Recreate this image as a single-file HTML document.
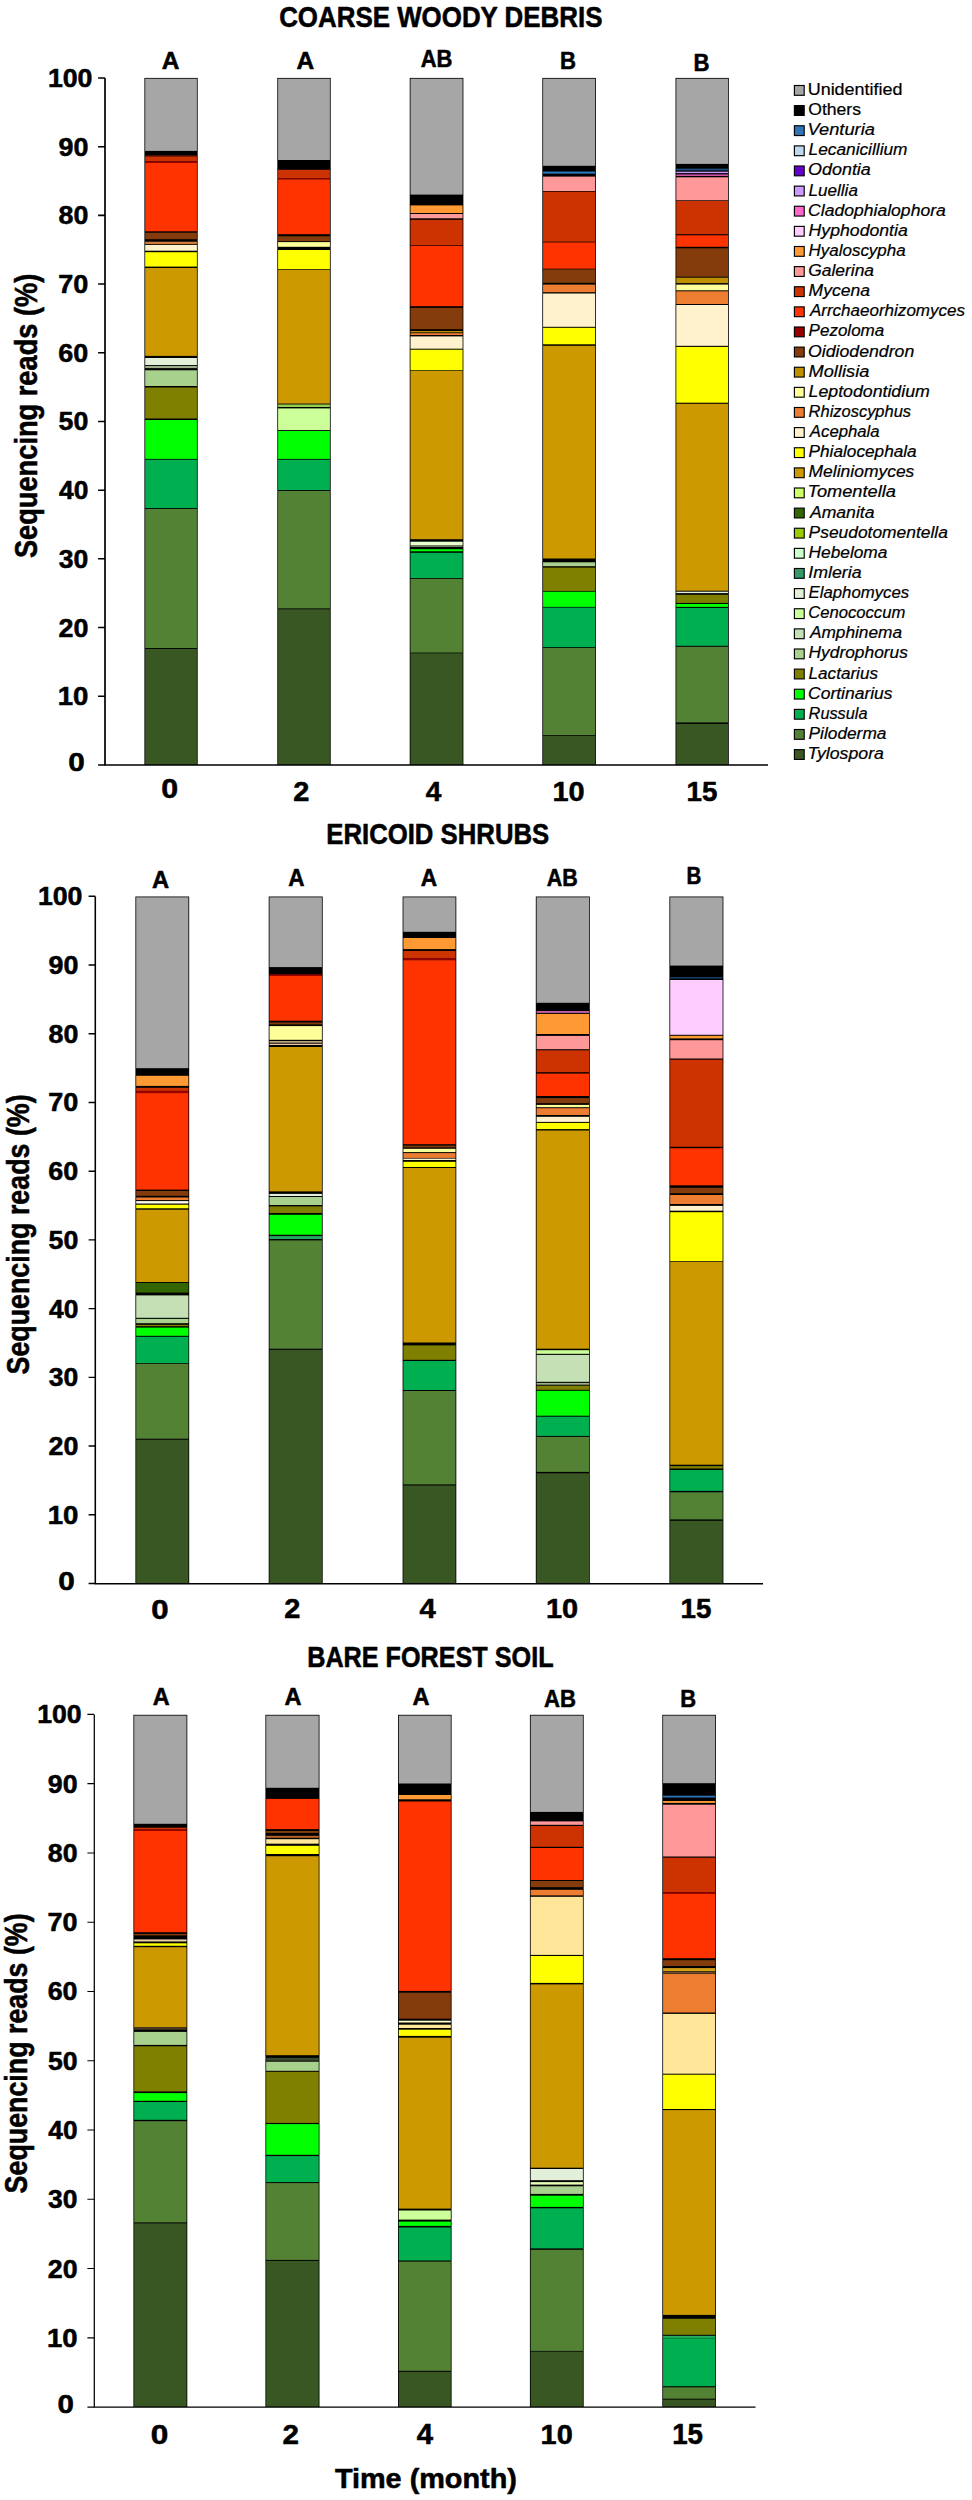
<!DOCTYPE html>
<html lang="en"><head><meta charset="utf-8"><title>Sequencing reads by substrate</title>
<style>
html,body{margin:0;padding:0;background:#fff}
body{width:972px;height:2500px;overflow:hidden}
svg{display:block}
text{font-family:"Liberation Sans",Arial,Helvetica,sans-serif;fill:#000}
text[font-weight=bold]{stroke:#000;stroke-width:.55px;stroke-linejoin:round}
text[font-weight=normal]{stroke:#000;stroke-width:.22px}
</style></head><body>
<svg width="972" height="2500" viewBox="0 0 972 2500">
<rect width="972" height="2500" fill="#fff"/>
<g>
<rect x="144.40" y="77.90" width="53.30" height="687.10" fill="#000"/>
<rect x="145.20" y="78.70" width="51.70" height="72.20" fill="#A6A6A6"/>
<rect x="145.20" y="155.00" width="51.70" height="1.20" fill="#401008"/>
<rect x="145.20" y="156.40" width="51.70" height="5.00" fill="#CC3300"/>
<rect x="145.20" y="161.40" width="51.70" height="1.50" fill="#990000"/>
<rect x="145.20" y="162.90" width="51.70" height="68.40" fill="#FF3300"/>
<rect x="145.20" y="232.70" width="51.70" height="6.50" fill="#843C0C"/>
<rect x="145.20" y="241.70" width="51.70" height="2.50" fill="#D07A3A"/>
<rect x="145.20" y="245.00" width="51.70" height="5.70" fill="#FFF2CC"/>
<rect x="145.20" y="252.20" width="51.70" height="14.40" fill="#FFFF00"/>
<rect x="145.20" y="268.00" width="51.70" height="87.90" fill="#CC9900"/>
<rect x="145.20" y="358.00" width="51.70" height="7.00" fill="#E2F0D9"/>
<rect x="145.20" y="365.90" width="51.70" height="2.20" fill="#9DB08A"/>
<rect x="145.20" y="370.30" width="51.70" height="15.70" fill="#A9D18E"/>
<rect x="145.20" y="387.50" width="51.70" height="31.00" fill="#808000"/>
<rect x="145.20" y="420.00" width="51.70" height="38.90" fill="#00FF00"/>
<rect x="145.20" y="459.70" width="51.70" height="48.40" fill="#00B050"/>
<rect x="145.20" y="509.00" width="51.70" height="139.00" fill="#548235"/>
<rect x="145.20" y="648.90" width="51.70" height="116.00" fill="#385723"/>
<rect x="277.30" y="77.90" width="53.40" height="687.10" fill="#000"/>
<rect x="278.10" y="78.70" width="51.80" height="81.30" fill="#A6A6A6"/>
<rect x="278.10" y="169.80" width="51.80" height="8.50" fill="#CC3300"/>
<rect x="278.10" y="178.30" width="51.80" height="1.10" fill="#990000"/>
<rect x="278.10" y="179.40" width="51.80" height="54.80" fill="#FF3300"/>
<rect x="278.10" y="236.30" width="51.80" height="4.80" fill="#843C0C"/>
<rect x="278.10" y="242.10" width="51.80" height="4.70" fill="#FFFF99"/>
<rect x="278.10" y="250.00" width="51.80" height="19.20" fill="#FFFF00"/>
<rect x="278.10" y="269.90" width="51.80" height="133.10" fill="#CC9900"/>
<rect x="278.10" y="403.00" width="51.80" height="1.40" fill="#7A5A10"/>
<rect x="278.10" y="404.60" width="51.80" height="2.40" fill="#92D050"/>
<rect x="278.10" y="408.40" width="51.80" height="21.70" fill="#CCFF99"/>
<rect x="278.10" y="431.00" width="51.80" height="27.90" fill="#00FF00"/>
<rect x="278.10" y="459.70" width="51.80" height="30.40" fill="#00B050"/>
<rect x="278.10" y="491.00" width="51.80" height="117.40" fill="#548235"/>
<rect x="278.10" y="609.30" width="51.80" height="155.60" fill="#385723"/>
<rect x="409.70" y="77.90" width="53.70" height="687.10" fill="#000"/>
<rect x="410.50" y="78.70" width="52.10" height="115.90" fill="#A6A6A6"/>
<rect x="410.50" y="205.40" width="52.10" height="7.60" fill="#FF9933"/>
<rect x="410.50" y="214.00" width="52.10" height="4.30" fill="#FF9999"/>
<rect x="410.50" y="219.80" width="52.10" height="25.20" fill="#CC3300"/>
<rect x="410.50" y="245.70" width="52.10" height="60.50" fill="#FF3300"/>
<rect x="410.50" y="307.90" width="52.10" height="21.30" fill="#843C0C"/>
<rect x="410.50" y="331.00" width="52.10" height="1.40" fill="#BF9000"/>
<rect x="410.50" y="333.20" width="52.10" height="1.80" fill="#ED7D31"/>
<rect x="410.50" y="336.40" width="52.10" height="12.30" fill="#FFF2CC"/>
<rect x="410.50" y="349.70" width="52.10" height="20.60" fill="#FFFF00"/>
<rect x="410.50" y="371.00" width="52.10" height="168.20" fill="#CC9900"/>
<rect x="410.50" y="541.70" width="52.10" height="3.30" fill="#E6FFCC"/>
<rect x="410.50" y="545.30" width="52.10" height="1.40" fill="#9DB08A"/>
<rect x="410.50" y="549.20" width="52.10" height="2.10" fill="#00FF00"/>
<rect x="410.50" y="552.80" width="52.10" height="25.20" fill="#00B050"/>
<rect x="410.50" y="578.80" width="52.10" height="73.80" fill="#548235"/>
<rect x="410.50" y="653.30" width="52.10" height="111.60" fill="#385723"/>
<rect x="542.30" y="77.90" width="53.60" height="687.10" fill="#000"/>
<rect x="543.10" y="78.70" width="52.00" height="87.10" fill="#A6A6A6"/>
<rect x="543.10" y="171.50" width="52.00" height="2.20" fill="#2E75B6"/>
<rect x="543.10" y="176.60" width="52.00" height="14.40" fill="#FF9999"/>
<rect x="543.10" y="191.70" width="52.00" height="50.00" fill="#CC3300"/>
<rect x="543.10" y="242.40" width="52.00" height="26.30" fill="#FF3300"/>
<rect x="543.10" y="269.40" width="52.00" height="13.40" fill="#843C0C"/>
<rect x="543.10" y="284.60" width="52.00" height="7.60" fill="#ED7D31"/>
<rect x="543.10" y="293.50" width="52.00" height="33.30" fill="#FFF2CC"/>
<rect x="543.10" y="327.80" width="52.00" height="16.50" fill="#FFFF00"/>
<rect x="543.10" y="345.80" width="52.00" height="212.70" fill="#CC9900"/>
<rect x="543.10" y="562.30" width="52.00" height="3.90" fill="#A9D18E"/>
<rect x="543.10" y="567.60" width="52.00" height="23.30" fill="#808000"/>
<rect x="543.10" y="591.70" width="52.00" height="15.20" fill="#00FF00"/>
<rect x="543.10" y="607.60" width="52.00" height="39.60" fill="#00B050"/>
<rect x="543.10" y="648.00" width="52.00" height="87.10" fill="#548235"/>
<rect x="543.10" y="735.80" width="52.00" height="29.10" fill="#385723"/>
<rect x="675.50" y="77.90" width="53.30" height="687.10" fill="#000"/>
<rect x="676.30" y="78.70" width="51.70" height="85.20" fill="#A6A6A6"/>
<rect x="676.30" y="168.60" width="51.70" height="1.90" fill="#1F4E79"/>
<rect x="676.30" y="171.70" width="51.70" height="1.40" fill="#CC99FF"/>
<rect x="676.30" y="174.50" width="51.70" height="1.30" fill="#FF66CC"/>
<rect x="676.30" y="177.30" width="51.70" height="23.00" fill="#FF9999"/>
<rect x="676.30" y="201.00" width="51.70" height="33.20" fill="#CC3300"/>
<rect x="676.30" y="235.30" width="51.70" height="11.50" fill="#FF3300"/>
<rect x="676.30" y="248.30" width="51.70" height="28.40" fill="#843C0C"/>
<rect x="676.30" y="277.70" width="51.70" height="5.40" fill="#BF9000"/>
<rect x="676.30" y="284.60" width="51.70" height="5.70" fill="#FFFF99"/>
<rect x="676.30" y="291.30" width="51.70" height="12.70" fill="#ED7D31"/>
<rect x="676.30" y="305.00" width="51.70" height="40.80" fill="#FFF2CC"/>
<rect x="676.30" y="346.90" width="51.70" height="55.80" fill="#FFFF00"/>
<rect x="676.30" y="403.80" width="51.70" height="186.90" fill="#CC9900"/>
<rect x="676.30" y="591.70" width="51.70" height="1.40" fill="#E2F0D9"/>
<rect x="676.30" y="594.80" width="51.70" height="8.10" fill="#808000"/>
<rect x="676.30" y="604.00" width="51.70" height="2.90" fill="#00FF00"/>
<rect x="676.30" y="607.90" width="51.70" height="37.90" fill="#00B050"/>
<rect x="676.30" y="646.80" width="51.70" height="75.60" fill="#548235"/>
<rect x="676.30" y="723.90" width="51.70" height="41.00" fill="#385723"/>
<path d="M105.00 77.90V765.00H768.00" fill="none" stroke="#000" stroke-width="1.70"/>
<path d="M98.10 78.00H105.00M98.10 146.69H105.00M98.10 215.38H105.00M98.10 284.07H105.00M98.10 352.76H105.00M98.10 421.45H105.00M98.10 490.14H105.00M98.10 558.83H105.00M98.10 627.52H105.00M98.10 696.21H105.00M98.10 764.90H105.00" fill="none" stroke="#000" stroke-width="1.53"/>
</g>
<g>
<rect x="135.40" y="896.50" width="53.80" height="687.20" fill="#000"/>
<rect x="136.20" y="897.30" width="52.20" height="170.90" fill="#A6A6A6"/>
<rect x="136.20" y="1075.80" width="52.20" height="10.10" fill="#FF9933"/>
<rect x="136.20" y="1087.80" width="52.20" height="3.10" fill="#CC3300"/>
<rect x="136.20" y="1090.90" width="52.20" height="2.20" fill="#990000"/>
<rect x="136.20" y="1093.10" width="52.20" height="96.50" fill="#FF3300"/>
<rect x="136.20" y="1191.00" width="52.20" height="4.80" fill="#843C0C"/>
<rect x="136.20" y="1197.50" width="52.20" height="2.60" fill="#ED7D31"/>
<rect x="136.20" y="1201.10" width="52.20" height="2.40" fill="#FFFBEE"/>
<rect x="136.20" y="1204.70" width="52.20" height="3.60" fill="#FFFF00"/>
<rect x="136.20" y="1209.70" width="52.20" height="72.30" fill="#CC9900"/>
<rect x="136.20" y="1282.90" width="52.20" height="9.70" fill="#336600"/>
<rect x="136.20" y="1295.40" width="52.20" height="22.40" fill="#C5E0B4"/>
<rect x="136.20" y="1318.90" width="52.20" height="4.30" fill="#A9D18E"/>
<rect x="136.20" y="1324.80" width="52.20" height="1.40" fill="#808000"/>
<rect x="136.20" y="1327.60" width="52.20" height="8.20" fill="#00FF00"/>
<rect x="136.20" y="1336.80" width="52.20" height="26.30" fill="#00B050"/>
<rect x="136.20" y="1363.80" width="52.20" height="74.90" fill="#548235"/>
<rect x="136.20" y="1439.70" width="52.20" height="143.80" fill="#385723"/>
<rect x="268.70" y="896.50" width="54.00" height="687.20" fill="#000"/>
<rect x="269.50" y="897.30" width="52.40" height="69.80" fill="#A6A6A6"/>
<rect x="269.50" y="974.30" width="52.40" height="1.70" fill="#990000"/>
<rect x="269.50" y="976.00" width="52.40" height="44.70" fill="#FF3300"/>
<rect x="269.50" y="1022.50" width="52.40" height="1.90" fill="#843C0C"/>
<rect x="269.50" y="1026.10" width="52.40" height="13.70" fill="#FFFF99"/>
<rect x="269.50" y="1041.20" width="52.40" height="1.40" fill="#E8C9A0"/>
<rect x="269.50" y="1043.70" width="52.40" height="1.30" fill="#E8C9A0"/>
<rect x="269.50" y="1047.00" width="52.40" height="144.40" fill="#CC9900"/>
<rect x="269.50" y="1193.90" width="52.40" height="2.10" fill="#E2F0D9"/>
<rect x="269.50" y="1197.00" width="52.40" height="8.00" fill="#A9D18E"/>
<rect x="269.50" y="1206.40" width="52.40" height="6.60" fill="#808000"/>
<rect x="269.50" y="1214.80" width="52.40" height="19.90" fill="#00FF00"/>
<rect x="269.50" y="1236.10" width="52.40" height="2.90" fill="#20A860"/>
<rect x="269.50" y="1240.40" width="52.40" height="108.30" fill="#548235"/>
<rect x="269.50" y="1349.80" width="52.40" height="233.70" fill="#385723"/>
<rect x="402.60" y="896.50" width="53.70" height="687.20" fill="#000"/>
<rect x="403.40" y="897.30" width="52.10" height="34.50" fill="#A6A6A6"/>
<rect x="403.40" y="938.00" width="52.10" height="11.10" fill="#FF9933"/>
<rect x="403.40" y="951.00" width="52.10" height="7.40" fill="#CC3300"/>
<rect x="403.40" y="958.40" width="52.10" height="1.80" fill="#990000"/>
<rect x="403.40" y="960.20" width="52.10" height="184.00" fill="#FF3300"/>
<rect x="403.40" y="1145.60" width="52.10" height="1.80" fill="#843C0C"/>
<rect x="403.40" y="1148.80" width="52.10" height="3.30" fill="#FFFF99"/>
<rect x="403.40" y="1153.10" width="52.10" height="4.80" fill="#ED7D31"/>
<rect x="403.40" y="1158.60" width="52.10" height="1.40" fill="#FFF2CC"/>
<rect x="403.40" y="1161.80" width="52.10" height="5.20" fill="#FFFF00"/>
<rect x="403.40" y="1168.00" width="52.10" height="174.50" fill="#CC9900"/>
<rect x="403.40" y="1345.40" width="52.10" height="14.40" fill="#808000"/>
<rect x="403.40" y="1361.00" width="52.10" height="29.00" fill="#00B050"/>
<rect x="403.40" y="1391.00" width="52.10" height="93.40" fill="#548235"/>
<rect x="403.40" y="1485.50" width="52.10" height="98.00" fill="#385723"/>
<rect x="535.80" y="896.50" width="54.00" height="687.20" fill="#000"/>
<rect x="536.60" y="897.30" width="52.40" height="105.50" fill="#A6A6A6"/>
<rect x="536.60" y="1011.00" width="52.40" height="1.90" fill="#C060A0"/>
<rect x="536.60" y="1013.90" width="52.40" height="20.10" fill="#FF9933"/>
<rect x="536.60" y="1035.90" width="52.40" height="13.30" fill="#FF9999"/>
<rect x="536.60" y="1050.30" width="52.40" height="21.90" fill="#CC3300"/>
<rect x="536.60" y="1073.60" width="52.40" height="22.40" fill="#FF3300"/>
<rect x="536.60" y="1098.10" width="52.40" height="5.10" fill="#843C0C"/>
<rect x="536.60" y="1104.90" width="52.40" height="2.30" fill="#FFFF99"/>
<rect x="536.60" y="1108.20" width="52.40" height="6.80" fill="#ED7D31"/>
<rect x="536.60" y="1116.80" width="52.40" height="5.10" fill="#FFF2CC"/>
<rect x="536.60" y="1122.90" width="52.40" height="6.20" fill="#FFFF00"/>
<rect x="536.60" y="1130.50" width="52.40" height="218.20" fill="#CC9900"/>
<rect x="536.60" y="1350.20" width="52.40" height="3.60" fill="#CCFF99"/>
<rect x="536.60" y="1354.90" width="52.40" height="26.90" fill="#C5E0B4"/>
<rect x="536.60" y="1382.90" width="52.40" height="1.80" fill="#9DB08A"/>
<rect x="536.60" y="1385.70" width="52.40" height="4.10" fill="#808000"/>
<rect x="536.60" y="1390.80" width="52.40" height="24.90" fill="#00FF00"/>
<rect x="536.60" y="1416.70" width="52.40" height="19.20" fill="#00B050"/>
<rect x="536.60" y="1436.90" width="52.40" height="35.00" fill="#548235"/>
<rect x="536.60" y="1473.30" width="52.40" height="110.20" fill="#385723"/>
<rect x="669.40" y="896.50" width="54.00" height="687.20" fill="#000"/>
<rect x="670.20" y="897.30" width="52.40" height="68.30" fill="#A6A6A6"/>
<rect x="670.20" y="977.20" width="52.40" height="1.20" fill="#1F4E79"/>
<rect x="670.20" y="980.00" width="52.40" height="54.80" fill="#FFCCFF"/>
<rect x="670.20" y="1035.80" width="52.40" height="2.60" fill="#FF9933"/>
<rect x="670.20" y="1040.20" width="52.40" height="18.30" fill="#FF9999"/>
<rect x="670.20" y="1059.70" width="52.40" height="87.10" fill="#CC3300"/>
<rect x="670.20" y="1148.20" width="52.40" height="37.10" fill="#FF3300"/>
<rect x="670.20" y="1187.80" width="52.40" height="5.40" fill="#843C0C"/>
<rect x="670.20" y="1195.00" width="52.40" height="9.00" fill="#ED7D31"/>
<rect x="670.20" y="1205.90" width="52.40" height="4.80" fill="#FFF2CC"/>
<rect x="670.20" y="1212.20" width="52.40" height="49.00" fill="#FFFF00"/>
<rect x="670.20" y="1261.90" width="52.40" height="202.80" fill="#CC9900"/>
<rect x="670.20" y="1466.10" width="52.40" height="2.40" fill="#808000"/>
<rect x="670.20" y="1470.00" width="52.40" height="20.90" fill="#00B050"/>
<rect x="670.20" y="1492.30" width="52.40" height="27.10" fill="#548235"/>
<rect x="670.20" y="1520.80" width="52.40" height="62.70" fill="#385723"/>
<path d="M95.30 896.50V1583.70H763.00" fill="none" stroke="#000" stroke-width="1.55"/>
<path d="M88.60 896.30H95.30M88.60 965.02H95.30M88.60 1033.74H95.30M88.60 1102.46H95.30M88.60 1171.18H95.30M88.60 1239.90H95.30M88.60 1308.62H95.30M88.60 1377.34H95.30M88.60 1446.06H95.30M88.60 1514.78H95.30M88.60 1583.50H95.30" fill="none" stroke="#000" stroke-width="1.40"/>
</g>
<g>
<rect x="133.40" y="1714.80" width="53.90" height="692.20" fill="#000"/>
<rect x="134.20" y="1715.60" width="52.30" height="108.20" fill="#A6A6A6"/>
<rect x="134.20" y="1827.70" width="52.30" height="1.90" fill="#CC3300"/>
<rect x="134.20" y="1829.60" width="52.30" height="1.40" fill="#990000"/>
<rect x="134.20" y="1831.00" width="52.30" height="101.20" fill="#FF3300"/>
<rect x="134.20" y="1933.90" width="52.30" height="1.50" fill="#843C0C"/>
<rect x="134.20" y="1939.40" width="52.30" height="2.10" fill="#E8D0A0"/>
<rect x="134.20" y="1943.30" width="52.30" height="2.50" fill="#FFFF00"/>
<rect x="134.20" y="1947.20" width="52.30" height="80.10" fill="#CC9900"/>
<rect x="134.20" y="2027.30" width="52.30" height="2.40" fill="#4A3A20"/>
<rect x="134.20" y="2031.90" width="52.30" height="13.00" fill="#A9D18E"/>
<rect x="134.20" y="2046.30" width="52.30" height="45.10" fill="#808000"/>
<rect x="134.20" y="2093.10" width="52.30" height="7.70" fill="#00FF00"/>
<rect x="134.20" y="2102.00" width="52.30" height="17.80" fill="#00B050"/>
<rect x="134.20" y="2121.20" width="52.30" height="101.20" fill="#548235"/>
<rect x="134.20" y="2223.40" width="52.30" height="183.40" fill="#385723"/>
<rect x="265.40" y="1714.80" width="54.10" height="692.20" fill="#000"/>
<rect x="266.20" y="1715.60" width="52.50" height="72.20" fill="#A6A6A6"/>
<rect x="266.20" y="1798.90" width="52.50" height="30.20" fill="#FF3300"/>
<rect x="266.20" y="1831.00" width="52.50" height="1.90" fill="#843C0C"/>
<rect x="266.20" y="1835.80" width="52.50" height="2.00" fill="#B5652B"/>
<rect x="266.20" y="1839.20" width="52.50" height="4.50" fill="#FFE699"/>
<rect x="266.20" y="1845.80" width="52.50" height="8.20" fill="#FFFF00"/>
<rect x="266.20" y="1856.20" width="52.50" height="199.00" fill="#CC9900"/>
<rect x="266.20" y="2057.80" width="52.50" height="2.90" fill="#3A4A30"/>
<rect x="266.20" y="2061.70" width="52.50" height="9.10" fill="#A9D18E"/>
<rect x="266.20" y="2071.80" width="52.50" height="51.10" fill="#808000"/>
<rect x="266.20" y="2124.10" width="52.50" height="30.70" fill="#00FF00"/>
<rect x="266.20" y="2156.10" width="52.50" height="26.00" fill="#00B050"/>
<rect x="266.20" y="2183.10" width="52.50" height="76.80" fill="#548235"/>
<rect x="266.20" y="2260.90" width="52.50" height="145.90" fill="#385723"/>
<rect x="398.00" y="1714.80" width="53.60" height="692.20" fill="#000"/>
<rect x="398.80" y="1715.60" width="52.00" height="67.90" fill="#A6A6A6"/>
<rect x="398.80" y="1795.00" width="52.00" height="4.30" fill="#FF9933"/>
<rect x="398.80" y="1801.50" width="52.00" height="189.40" fill="#FF3300"/>
<rect x="398.80" y="1992.70" width="52.00" height="26.00" fill="#843C0C"/>
<rect x="398.80" y="2020.70" width="52.00" height="1.80" fill="#FFFFCC"/>
<rect x="398.80" y="2024.70" width="52.00" height="3.30" fill="#FFE699"/>
<rect x="398.80" y="2029.70" width="52.00" height="6.20" fill="#FFFF00"/>
<rect x="398.80" y="2037.70" width="52.00" height="170.90" fill="#CC9900"/>
<rect x="398.80" y="2210.50" width="52.00" height="9.10" fill="#CCFF99"/>
<rect x="398.80" y="2221.60" width="52.00" height="4.30" fill="#00FF00"/>
<rect x="398.80" y="2227.50" width="52.00" height="33.00" fill="#00B050"/>
<rect x="398.80" y="2261.60" width="52.00" height="109.20" fill="#548235"/>
<rect x="398.80" y="2371.80" width="52.00" height="35.00" fill="#385723"/>
<rect x="529.90" y="1714.80" width="53.80" height="692.20" fill="#000"/>
<rect x="530.70" y="1715.60" width="52.20" height="96.30" fill="#A6A6A6"/>
<rect x="530.70" y="1821.40" width="52.20" height="3.40" fill="#FF9999"/>
<rect x="530.70" y="1826.00" width="52.20" height="20.80" fill="#CC3300"/>
<rect x="530.70" y="1848.00" width="52.20" height="32.00" fill="#FF3300"/>
<rect x="530.70" y="1881.00" width="52.20" height="6.20" fill="#843C0C"/>
<rect x="530.70" y="1889.80" width="52.20" height="5.60" fill="#ED7D31"/>
<rect x="530.70" y="1896.80" width="52.20" height="58.10" fill="#FFE699"/>
<rect x="530.70" y="1956.00" width="52.20" height="26.90" fill="#FFFF00"/>
<rect x="530.70" y="1984.40" width="52.20" height="183.30" fill="#CC9900"/>
<rect x="530.70" y="2169.00" width="52.20" height="11.20" fill="#E2F0D9"/>
<rect x="530.70" y="2182.10" width="52.20" height="2.50" fill="#E6FFB3"/>
<rect x="530.70" y="2186.30" width="52.20" height="7.60" fill="#A9D18E"/>
<rect x="530.70" y="2195.70" width="52.20" height="11.20" fill="#00FF00"/>
<rect x="530.70" y="2208.30" width="52.20" height="40.10" fill="#00B050"/>
<rect x="530.70" y="2249.80" width="52.20" height="101.10" fill="#548235"/>
<rect x="530.70" y="2351.60" width="52.20" height="55.20" fill="#385723"/>
<rect x="662.30" y="1714.80" width="53.60" height="692.20" fill="#000"/>
<rect x="663.10" y="1715.60" width="52.00" height="67.60" fill="#A6A6A6"/>
<rect x="663.10" y="1795.70" width="52.00" height="1.80" fill="#2E75B6"/>
<rect x="663.10" y="1801.00" width="52.00" height="1.90" fill="#FF9933"/>
<rect x="663.10" y="1804.70" width="52.00" height="51.80" fill="#FF9999"/>
<rect x="663.10" y="1857.70" width="52.00" height="34.50" fill="#CC3300"/>
<rect x="663.10" y="1892.20" width="52.00" height="1.70" fill="#990000"/>
<rect x="663.10" y="1893.90" width="52.00" height="64.30" fill="#FF3300"/>
<rect x="663.10" y="1960.20" width="52.00" height="5.80" fill="#843C0C"/>
<rect x="663.10" y="1968.10" width="52.00" height="3.00" fill="#D4A017"/>
<rect x="663.10" y="1971.40" width="52.00" height="2.20" fill="#6B4A2A"/>
<rect x="663.10" y="1973.90" width="52.00" height="38.60" fill="#ED7D31"/>
<rect x="663.10" y="2013.90" width="52.00" height="59.80" fill="#FFE699"/>
<rect x="663.10" y="2074.70" width="52.00" height="34.30" fill="#FFFF00"/>
<rect x="663.10" y="2110.10" width="52.00" height="204.80" fill="#CC9900"/>
<rect x="663.10" y="2318.80" width="52.00" height="16.00" fill="#808000"/>
<rect x="663.10" y="2335.80" width="52.00" height="2.10" fill="#20B060"/>
<rect x="663.10" y="2338.20" width="52.00" height="48.00" fill="#00B050"/>
<rect x="663.10" y="2387.30" width="52.00" height="11.40" fill="#548235"/>
<rect x="663.10" y="2399.60" width="52.00" height="7.20" fill="#385723"/>
<path d="M94.30 1714.80V2407.00H755.50" fill="none" stroke="#000" stroke-width="1.25"/>
<path d="M87.40 1714.40H94.30M87.40 1783.67H94.30M87.40 1852.94H94.30M87.40 1922.21H94.30M87.40 1991.48H94.30M87.40 2060.75H94.30M87.40 2130.02H94.30M87.40 2199.29H94.30M87.40 2268.56H94.30M87.40 2337.83H94.30M87.40 2407.10H94.30" fill="none" stroke="#000" stroke-width="1.12"/>
</g>
<text x="47.93" y="87.00" font-size="26.67" font-weight="bold" textLength="44.56" lengthAdjust="spacingAndGlyphs">100</text>
<text x="58.46" y="155.69" font-size="26.67" font-weight="bold" textLength="29.88" lengthAdjust="spacingAndGlyphs">90</text>
<text x="58.53" y="224.38" font-size="26.67" font-weight="bold" textLength="29.81" lengthAdjust="spacingAndGlyphs">80</text>
<text x="58.25" y="293.07" font-size="26.67" font-weight="bold" textLength="30.10" lengthAdjust="spacingAndGlyphs">70</text>
<text x="58.39" y="361.76" font-size="26.67" font-weight="bold" textLength="29.95" lengthAdjust="spacingAndGlyphs">60</text>
<text x="58.60" y="430.45" font-size="26.67" font-weight="bold" textLength="29.73" lengthAdjust="spacingAndGlyphs">50</text>
<text x="59.00" y="499.14" font-size="26.67" font-weight="bold" textLength="29.31" lengthAdjust="spacingAndGlyphs">40</text>
<text x="58.80" y="567.83" font-size="26.67" font-weight="bold" textLength="29.52" lengthAdjust="spacingAndGlyphs">30</text>
<text x="58.46" y="636.52" font-size="26.67" font-weight="bold" textLength="29.88" lengthAdjust="spacingAndGlyphs">20</text>
<text x="57.68" y="705.21" font-size="26.67" font-weight="bold" textLength="30.69" lengthAdjust="spacingAndGlyphs">10</text>
<text x="68.21" y="770.80" font-size="26.67" font-weight="bold" textLength="16.51" lengthAdjust="spacingAndGlyphs">0</text>
<text x="37.93" y="905.30" font-size="26.67" font-weight="bold" textLength="44.56" lengthAdjust="spacingAndGlyphs">100</text>
<text x="48.46" y="974.02" font-size="26.67" font-weight="bold" textLength="29.88" lengthAdjust="spacingAndGlyphs">90</text>
<text x="48.53" y="1042.74" font-size="26.67" font-weight="bold" textLength="29.81" lengthAdjust="spacingAndGlyphs">80</text>
<text x="48.25" y="1111.46" font-size="26.67" font-weight="bold" textLength="30.10" lengthAdjust="spacingAndGlyphs">70</text>
<text x="48.39" y="1180.18" font-size="26.67" font-weight="bold" textLength="29.95" lengthAdjust="spacingAndGlyphs">60</text>
<text x="48.60" y="1248.90" font-size="26.67" font-weight="bold" textLength="29.73" lengthAdjust="spacingAndGlyphs">50</text>
<text x="49.00" y="1317.62" font-size="26.67" font-weight="bold" textLength="29.31" lengthAdjust="spacingAndGlyphs">40</text>
<text x="48.80" y="1386.34" font-size="26.67" font-weight="bold" textLength="29.52" lengthAdjust="spacingAndGlyphs">30</text>
<text x="48.46" y="1455.06" font-size="26.67" font-weight="bold" textLength="29.88" lengthAdjust="spacingAndGlyphs">20</text>
<text x="47.68" y="1523.78" font-size="26.67" font-weight="bold" textLength="30.69" lengthAdjust="spacingAndGlyphs">10</text>
<text x="58.21" y="1589.50" font-size="26.67" font-weight="bold" textLength="16.51" lengthAdjust="spacingAndGlyphs">0</text>
<text x="37.23" y="1723.40" font-size="26.67" font-weight="bold" textLength="44.46" lengthAdjust="spacingAndGlyphs">100</text>
<text x="47.76" y="1792.67" font-size="26.67" font-weight="bold" textLength="29.77" lengthAdjust="spacingAndGlyphs">90</text>
<text x="47.83" y="1861.94" font-size="26.67" font-weight="bold" textLength="29.70" lengthAdjust="spacingAndGlyphs">80</text>
<text x="47.55" y="1931.21" font-size="26.67" font-weight="bold" textLength="29.99" lengthAdjust="spacingAndGlyphs">70</text>
<text x="47.69" y="2000.48" font-size="26.67" font-weight="bold" textLength="29.84" lengthAdjust="spacingAndGlyphs">60</text>
<text x="47.90" y="2069.75" font-size="26.67" font-weight="bold" textLength="29.63" lengthAdjust="spacingAndGlyphs">50</text>
<text x="48.31" y="2139.02" font-size="26.67" font-weight="bold" textLength="29.21" lengthAdjust="spacingAndGlyphs">40</text>
<text x="48.11" y="2208.29" font-size="26.67" font-weight="bold" textLength="29.41" lengthAdjust="spacingAndGlyphs">30</text>
<text x="47.76" y="2277.56" font-size="26.67" font-weight="bold" textLength="29.77" lengthAdjust="spacingAndGlyphs">20</text>
<text x="46.98" y="2346.83" font-size="26.67" font-weight="bold" textLength="30.58" lengthAdjust="spacingAndGlyphs">10</text>
<text x="57.52" y="2412.80" font-size="26.67" font-weight="bold" textLength="16.39" lengthAdjust="spacingAndGlyphs">0</text>
<text x="279.16" y="27.00" font-size="28.82" font-weight="bold" textLength="323.29" lengthAdjust="spacingAndGlyphs">COARSE WOODY DEBRIS</text>
<text x="326.26" y="843.90" font-size="28.82" font-weight="bold" textLength="222.97" lengthAdjust="spacingAndGlyphs">ERICOID SHRUBS</text>
<text x="307.20" y="1666.90" font-size="28.82" font-weight="bold" textLength="246.38" lengthAdjust="spacingAndGlyphs">BARE FOREST SOIL</text>
<text x="334.91" y="2488.20" font-size="27.86" font-weight="bold" textLength="181.92" lengthAdjust="spacingAndGlyphs">Time (month)</text>
<text transform="translate(37.00 557.30) rotate(-90)" x="-0.82" y="0" font-size="30.97" font-weight="bold" textLength="284.47" lengthAdjust="spacingAndGlyphs">Sequencing reads (%)</text>
<text transform="translate(28.70 1373.70) rotate(-90)" x="-0.80" y="0" font-size="30.97" font-weight="bold" textLength="280.13" lengthAdjust="spacingAndGlyphs">Sequencing reads (%)</text>
<text transform="translate(27.40 2192.60) rotate(-90)" x="-0.80" y="0" font-size="30.97" font-weight="bold" textLength="280.03" lengthAdjust="spacingAndGlyphs">Sequencing reads (%)</text>
<text x="161.89" y="68.60" font-size="24.00" font-weight="bold" textLength="17.68" lengthAdjust="spacingAndGlyphs">A</text>
<text x="296.49" y="68.60" font-size="24.00" font-weight="bold" textLength="17.68" lengthAdjust="spacingAndGlyphs">A</text>
<text x="420.65" y="67.00" font-size="24.15" font-weight="bold" textLength="31.72" lengthAdjust="spacingAndGlyphs">AB</text>
<text x="560.11" y="68.60" font-size="24.29" font-weight="bold" textLength="15.98" lengthAdjust="spacingAndGlyphs">B</text>
<text x="693.41" y="71.40" font-size="24.29" font-weight="bold" textLength="15.98" lengthAdjust="spacingAndGlyphs">B</text>
<text x="152.11" y="888.00" font-size="23.71" font-weight="bold" textLength="17.14" lengthAdjust="spacingAndGlyphs">A</text>
<text x="288.24" y="885.50" font-size="23.85" font-weight="bold" textLength="16.28" lengthAdjust="spacingAndGlyphs">A</text>
<text x="420.73" y="886.20" font-size="23.71" font-weight="bold" textLength="16.38" lengthAdjust="spacingAndGlyphs">A</text>
<text x="546.76" y="886.00" font-size="24.29" font-weight="bold" textLength="30.99" lengthAdjust="spacingAndGlyphs">AB</text>
<text x="686.42" y="884.00" font-size="23.71" font-weight="bold" textLength="14.80" lengthAdjust="spacingAndGlyphs">B</text>
<text x="152.81" y="1705.20" font-size="23.85" font-weight="bold" textLength="16.92" lengthAdjust="spacingAndGlyphs">A</text>
<text x="284.61" y="1705.20" font-size="23.85" font-weight="bold" textLength="17.03" lengthAdjust="spacingAndGlyphs">A</text>
<text x="412.61" y="1705.00" font-size="23.56" font-weight="bold" textLength="17.03" lengthAdjust="spacingAndGlyphs">A</text>
<text x="543.95" y="1706.50" font-size="23.85" font-weight="bold" textLength="31.93" lengthAdjust="spacingAndGlyphs">AB</text>
<text x="680.22" y="1706.50" font-size="23.56" font-weight="bold" textLength="15.86" lengthAdjust="spacingAndGlyphs">B</text>
<text x="161.29" y="798.30" font-size="27.96" font-weight="bold" textLength="16.86" lengthAdjust="spacingAndGlyphs">0</text>
<text x="293.39" y="801.10" font-size="27.96" font-weight="bold" textLength="16.11" lengthAdjust="spacingAndGlyphs">2</text>
<text x="425.68" y="801.10" font-size="28.36" font-weight="bold" textLength="15.59" lengthAdjust="spacingAndGlyphs">4</text>
<text x="552.49" y="801.10" font-size="27.96" font-weight="bold" textLength="32.13" lengthAdjust="spacingAndGlyphs">10</text>
<text x="686.57" y="801.10" font-size="28.36" font-weight="bold" textLength="30.86" lengthAdjust="spacingAndGlyphs">15</text>
<text x="151.25" y="1619.10" font-size="27.81" font-weight="bold" textLength="17.33" lengthAdjust="spacingAndGlyphs">0</text>
<text x="284.39" y="1617.50" font-size="27.96" font-weight="bold" textLength="16.11" lengthAdjust="spacingAndGlyphs">2</text>
<text x="419.56" y="1617.50" font-size="28.36" font-weight="bold" textLength="16.32" lengthAdjust="spacingAndGlyphs">4</text>
<text x="545.99" y="1617.50" font-size="27.96" font-weight="bold" textLength="32.13" lengthAdjust="spacingAndGlyphs">10</text>
<text x="680.47" y="1617.50" font-size="28.36" font-weight="bold" textLength="30.86" lengthAdjust="spacingAndGlyphs">15</text>
<text x="150.84" y="2443.90" font-size="28.24" font-weight="bold" textLength="17.56" lengthAdjust="spacingAndGlyphs">0</text>
<text x="282.56" y="2443.90" font-size="28.24" font-weight="bold" textLength="16.45" lengthAdjust="spacingAndGlyphs">2</text>
<text x="416.66" y="2443.90" font-size="28.65" font-weight="bold" textLength="16.32" lengthAdjust="spacingAndGlyphs">4</text>
<text x="540.59" y="2443.90" font-size="28.24" font-weight="bold" textLength="32.13" lengthAdjust="spacingAndGlyphs">10</text>
<text x="672.17" y="2443.90" font-size="28.65" font-weight="bold" textLength="30.86" lengthAdjust="spacingAndGlyphs">15</text>
<rect x="794.4" y="85.50" width="9.8" height="9.8" fill="#A6A6A6" stroke="#000" stroke-width="1.15"/>
<text x="807.71" y="94.90" font-size="16.70" font-weight="normal" textLength="94.74" lengthAdjust="spacingAndGlyphs">Unidentified</text>
<rect x="794.4" y="105.62" width="9.8" height="9.8" fill="#000" stroke="#000" stroke-width="1.15"/>
<text x="808.26" y="115.03" font-size="16.70" font-weight="normal" textLength="52.77" lengthAdjust="spacingAndGlyphs">Others</text>
<rect x="794.4" y="125.75" width="9.8" height="9.8" fill="#2E75B6" stroke="#000" stroke-width="1.15"/>
<text x="807.50" y="135.15" font-size="16.70" font-weight="normal" font-style="italic" textLength="67.40" lengthAdjust="spacingAndGlyphs">Venturia</text>
<rect x="794.4" y="145.88" width="9.8" height="9.8" fill="#BDD7EE" stroke="#000" stroke-width="1.15"/>
<text x="808.58" y="155.28" font-size="16.70" font-weight="normal" font-style="italic" textLength="98.89" lengthAdjust="spacingAndGlyphs">Lecanicillium</text>
<rect x="794.4" y="166.00" width="9.8" height="9.8" fill="#6600CC" stroke="#000" stroke-width="1.15"/>
<text x="808.12" y="175.40" font-size="16.70" font-weight="normal" font-style="italic" textLength="62.67" lengthAdjust="spacingAndGlyphs">Odontia</text>
<rect x="794.4" y="186.12" width="9.8" height="9.8" fill="#CC99FF" stroke="#000" stroke-width="1.15"/>
<text x="808.59" y="195.53" font-size="16.70" font-weight="normal" font-style="italic" textLength="49.29" lengthAdjust="spacingAndGlyphs">Luellia</text>
<rect x="794.4" y="206.25" width="9.8" height="9.8" fill="#FF66CC" stroke="#000" stroke-width="1.15"/>
<text x="808.13" y="215.65" font-size="16.70" font-weight="normal" font-style="italic" textLength="137.67" lengthAdjust="spacingAndGlyphs">Cladophialophora</text>
<rect x="794.4" y="226.38" width="9.8" height="9.8" fill="#FFCCFF" stroke="#000" stroke-width="1.15"/>
<text x="808.57" y="235.78" font-size="16.70" font-weight="normal" font-style="italic" textLength="99.21" lengthAdjust="spacingAndGlyphs">Hyphodontia</text>
<rect x="794.4" y="246.50" width="9.8" height="9.8" fill="#FF9933" stroke="#000" stroke-width="1.15"/>
<text x="808.59" y="255.90" font-size="16.70" font-weight="normal" font-style="italic" textLength="97.06" lengthAdjust="spacingAndGlyphs">Hyaloscypha</text>
<rect x="794.4" y="266.62" width="9.8" height="9.8" fill="#FF9999" stroke="#000" stroke-width="1.15"/>
<text x="808.23" y="276.02" font-size="16.70" font-weight="normal" font-style="italic" textLength="65.84" lengthAdjust="spacingAndGlyphs">Galerina</text>
<rect x="794.4" y="286.75" width="9.8" height="9.8" fill="#CC3300" stroke="#000" stroke-width="1.15"/>
<text x="808.57" y="296.15" font-size="16.70" font-weight="normal" font-style="italic" textLength="61.32" lengthAdjust="spacingAndGlyphs">Mycena</text>
<rect x="794.4" y="306.88" width="9.8" height="9.8" fill="#FF3300" stroke="#000" stroke-width="1.15"/>
<text x="809.91" y="316.27" font-size="16.70" font-weight="normal" font-style="italic" textLength="155.12" lengthAdjust="spacingAndGlyphs">Arrchaeorhizomyces</text>
<rect x="794.4" y="327.00" width="9.8" height="9.8" fill="#990000" stroke="#000" stroke-width="1.15"/>
<text x="808.59" y="336.40" font-size="16.70" font-weight="normal" font-style="italic" textLength="75.70" lengthAdjust="spacingAndGlyphs">Pezoloma</text>
<rect x="794.4" y="347.12" width="9.8" height="9.8" fill="#843C0C" stroke="#000" stroke-width="1.15"/>
<text x="808.13" y="356.52" font-size="16.70" font-weight="normal" font-style="italic" textLength="106.10" lengthAdjust="spacingAndGlyphs">Oidiodendron</text>
<rect x="794.4" y="367.25" width="9.8" height="9.8" fill="#BF9000" stroke="#000" stroke-width="1.15"/>
<text x="808.55" y="376.65" font-size="16.70" font-weight="normal" font-style="italic" textLength="60.77" lengthAdjust="spacingAndGlyphs">Mollisia</text>
<rect x="794.4" y="387.38" width="9.8" height="9.8" fill="#FFFF99" stroke="#000" stroke-width="1.15"/>
<text x="808.57" y="396.77" font-size="16.70" font-weight="normal" font-style="italic" textLength="121.25" lengthAdjust="spacingAndGlyphs">Leptodontidium</text>
<rect x="794.4" y="407.50" width="9.8" height="9.8" fill="#ED7D31" stroke="#000" stroke-width="1.15"/>
<text x="808.61" y="416.90" font-size="16.70" font-weight="normal" font-style="italic" textLength="102.43" lengthAdjust="spacingAndGlyphs">Rhizoscyphus</text>
<rect x="794.4" y="427.62" width="9.8" height="9.8" fill="#FFF2CC" stroke="#000" stroke-width="1.15"/>
<text x="809.89" y="437.02" font-size="16.70" font-weight="normal" font-style="italic" textLength="69.75" lengthAdjust="spacingAndGlyphs">Acephala</text>
<rect x="794.4" y="447.75" width="9.8" height="9.8" fill="#FFFF00" stroke="#000" stroke-width="1.15"/>
<text x="808.58" y="457.15" font-size="16.70" font-weight="normal" font-style="italic" textLength="108.08" lengthAdjust="spacingAndGlyphs">Phialocephala</text>
<rect x="794.4" y="467.88" width="9.8" height="9.8" fill="#CC9900" stroke="#000" stroke-width="1.15"/>
<text x="808.58" y="477.27" font-size="16.70" font-weight="normal" font-style="italic" textLength="105.77" lengthAdjust="spacingAndGlyphs">Meliniomyces</text>
<rect x="794.4" y="488.00" width="9.8" height="9.8" fill="#CCFF66" stroke="#000" stroke-width="1.15"/>
<text x="807.46" y="497.40" font-size="16.70" font-weight="normal" font-style="italic" textLength="88.43" lengthAdjust="spacingAndGlyphs">Tomentella</text>
<rect x="794.4" y="508.12" width="9.8" height="9.8" fill="#336600" stroke="#000" stroke-width="1.15"/>
<text x="809.94" y="517.52" font-size="16.70" font-weight="normal" font-style="italic" textLength="64.55" lengthAdjust="spacingAndGlyphs">Amanita</text>
<rect x="794.4" y="528.25" width="9.8" height="9.8" fill="#99CC00" stroke="#000" stroke-width="1.15"/>
<text x="808.58" y="537.65" font-size="16.70" font-weight="normal" font-style="italic" textLength="139.30" lengthAdjust="spacingAndGlyphs">Pseudotomentella</text>
<rect x="794.4" y="548.38" width="9.8" height="9.8" fill="#CCFFCC" stroke="#000" stroke-width="1.15"/>
<text x="808.58" y="557.77" font-size="16.70" font-weight="normal" font-style="italic" textLength="78.79" lengthAdjust="spacingAndGlyphs">Hebeloma</text>
<rect x="794.4" y="568.50" width="9.8" height="9.8" fill="#339966" stroke="#000" stroke-width="1.15"/>
<text x="808.39" y="577.90" font-size="16.70" font-weight="normal" font-style="italic" textLength="53.20" lengthAdjust="spacingAndGlyphs">Imleria</text>
<rect x="794.4" y="588.62" width="9.8" height="9.8" fill="#E2F0D9" stroke="#000" stroke-width="1.15"/>
<text x="808.60" y="598.02" font-size="16.70" font-weight="normal" font-style="italic" textLength="100.55" lengthAdjust="spacingAndGlyphs">Elaphomyces</text>
<rect x="794.4" y="608.75" width="9.8" height="9.8" fill="#CCFF99" stroke="#000" stroke-width="1.15"/>
<text x="808.19" y="618.15" font-size="16.70" font-weight="normal" font-style="italic" textLength="97.08" lengthAdjust="spacingAndGlyphs">Cenococcum</text>
<rect x="794.4" y="628.88" width="9.8" height="9.8" fill="#C5E0B4" stroke="#000" stroke-width="1.15"/>
<text x="809.92" y="638.27" font-size="16.70" font-weight="normal" font-style="italic" textLength="92.16" lengthAdjust="spacingAndGlyphs">Amphinema</text>
<rect x="794.4" y="649.00" width="9.8" height="9.8" fill="#A9D18E" stroke="#000" stroke-width="1.15"/>
<text x="808.58" y="658.40" font-size="16.70" font-weight="normal" font-style="italic" textLength="99.37" lengthAdjust="spacingAndGlyphs">Hydrophorus</text>
<rect x="794.4" y="669.12" width="9.8" height="9.8" fill="#808000" stroke="#000" stroke-width="1.15"/>
<text x="808.59" y="678.52" font-size="16.70" font-weight="normal" font-style="italic" textLength="69.36" lengthAdjust="spacingAndGlyphs">Lactarius</text>
<rect x="794.4" y="689.25" width="9.8" height="9.8" fill="#00FF00" stroke="#000" stroke-width="1.15"/>
<text x="808.14" y="698.65" font-size="16.70" font-weight="normal" font-style="italic" textLength="84.41" lengthAdjust="spacingAndGlyphs">Cortinarius</text>
<rect x="794.4" y="709.38" width="9.8" height="9.8" fill="#00B050" stroke="#000" stroke-width="1.15"/>
<text x="808.61" y="718.77" font-size="16.70" font-weight="normal" font-style="italic" textLength="58.93" lengthAdjust="spacingAndGlyphs">Russula</text>
<rect x="794.4" y="729.50" width="9.8" height="9.8" fill="#548235" stroke="#000" stroke-width="1.15"/>
<text x="808.58" y="738.90" font-size="16.70" font-weight="normal" font-style="italic" textLength="77.82" lengthAdjust="spacingAndGlyphs">Piloderma</text>
<rect x="794.4" y="749.62" width="9.8" height="9.8" fill="#385723" stroke="#000" stroke-width="1.15"/>
<text x="807.51" y="759.02" font-size="16.70" font-weight="normal" font-style="italic" textLength="76.40" lengthAdjust="spacingAndGlyphs">Tylospora</text>
</svg>
</body></html>
